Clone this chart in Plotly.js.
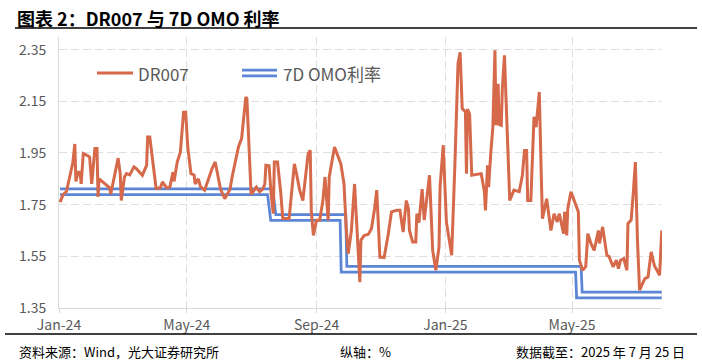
<!DOCTYPE html>
<html>
<head>
<meta charset="utf-8">
<script src="https://cdn.plot.ly/plotly-3.0.1.min.js"></script>
<style>html,body{margin:0;padding:0;background:#fff;}#chart{width:702px;height:361px;}</style>
</head>
<body>
<div id="chart"></div>
<script>
// ---- data ----
const seriesNames = ["DR007", "7D OMO利率"];
const drDates = [
"2024-01-02","2024-01-05","2024-01-08","2024-01-09","2024-01-12","2024-01-14","2024-01-16","2024-01-17","2024-01-19","2024-01-21","2024-01-22","2024-01-24","2024-01-28","2024-01-30",
"2024-02-01","2024-02-04","2024-02-06","2024-02-07","2024-02-08","2024-02-15","2024-02-18","2024-02-19","2024-02-23","2024-02-26","2024-02-28","2024-02-29",
"2024-03-03","2024-03-05","2024-03-08","2024-03-12","2024-03-14","2024-03-17","2024-03-20","2024-03-24","2024-03-25","2024-03-27","2024-03-30",
"2024-04-02","2024-04-06","2024-04-08","2024-04-12","2024-04-15","2024-04-18","2024-04-19","2024-04-22","2024-04-25","2024-04-28","2024-04-30",
"2024-05-02","2024-05-05","2024-05-08","2024-05-09","2024-05-12","2024-05-14","2024-05-18","2024-05-22","2024-05-25","2024-05-28","2024-05-30",
"2024-06-02","2024-06-06","2024-06-11","2024-06-13","2024-06-16","2024-06-19","2024-06-22","2024-06-24","2024-06-26","2024-06-27",
"2024-07-01","2024-07-06","2024-07-09","2024-07-12","2024-07-14","2024-07-15","2024-07-18","2024-07-20","2024-07-22","2024-07-23","2024-07-26","2024-07-29","2024-07-31",
"2024-08-06","2024-08-08","2024-08-11","2024-08-13","2024-08-16","2024-08-19","2024-08-21","2024-08-24","2024-08-26","2024-08-27","2024-08-29",
"2024-09-01","2024-09-04","2024-09-07","2024-09-09","2024-09-12","2024-09-13","2024-09-18","2024-09-21","2024-09-24","2024-09-27","2024-09-29",
"2024-10-01","2024-10-04","2024-10-07","2024-10-09","2024-10-10","2024-10-12","2024-10-13","2024-10-16","2024-10-20","2024-10-23","2024-10-26","2024-10-28","2024-10-31",
"2024-11-04","2024-11-08","2024-11-11","2024-11-16","2024-11-19","2024-11-22","2024-11-25","2024-11-27","2024-11-28",
"2024-12-01","2024-12-04","2024-12-05","2024-12-07","2024-12-10","2024-12-12","2024-12-17","2024-12-20","2024-12-23","2024-12-26","2024-12-27","2024-12-30",
"2025-01-02","2025-01-07","2025-01-10","2025-01-13","2025-01-15","2025-01-17","2025-01-20","2025-01-21","2025-01-22","2025-01-24","2025-01-26",
"2025-02-04","2025-02-07","2025-02-08","2025-02-10","2025-02-11","2025-02-13","2025-02-15","2025-02-17","2025-02-18","2025-02-20","2025-02-21","2025-02-23","2025-02-24","2025-02-26",
"2025-03-03","2025-03-07","2025-03-12","2025-03-15","2025-03-17","2025-03-19","2025-03-20","2025-03-23","2025-03-24","2025-03-26","2025-03-28","2025-03-31",
"2025-04-02","2025-04-03","2025-04-07","2025-04-11","2025-04-14","2025-04-17","2025-04-19","2025-04-23","2025-04-24","2025-04-26","2025-04-27","2025-04-30",
"2025-05-07","2025-05-08","2025-05-11","2025-05-14","2025-05-16","2025-05-19","2025-05-22","2025-05-26","2025-05-27","2025-05-30",
"2025-06-03","2025-06-05","2025-06-09","2025-06-12","2025-06-14","2025-06-16","2025-06-19","2025-06-22","2025-06-23","2025-06-26","2025-06-28","2025-06-30",
"2025-07-02","2025-07-04","2025-07-09","2025-07-12","2025-07-15","2025-07-18","2025-07-23","2025-07-25"
];
const drValues = [
1.76,1.79,1.80,1.82,1.88,1.91,1.985,1.84,1.875,1.875,1.83,1.948,1.94,1.934,
1.83,1.967,1.967,1.78,1.85,1.825,1.815,1.79,1.87,1.93,1.87,1.766,
1.857,1.87,1.865,1.896,1.89,1.876,1.864,1.902,2.012,2.012,1.90,
1.813,1.815,1.838,1.815,1.818,1.876,1.84,1.915,1.953,2.108,2.108,
1.973,1.87,1.865,1.83,1.85,1.82,1.806,1.857,1.89,1.915,1.87,
1.81,1.773,1.81,1.857,1.92,1.973,2.006,2.09,2.167,2.16,
1.79,1.818,1.80,1.81,1.83,1.902,1.90,1.79,1.715,1.915,1.915,1.80,1.696,
1.696,1.79,1.908,1.87,1.806,1.766,1.84,1.947,1.96,1.728,1.631,
1.69,1.69,1.766,1.857,1.69,1.857,1.973,1.94,1.908,1.83,1.664,
1.56,1.65,1.83,1.683,1.573,1.45,1.612,1.63,1.635,1.657,1.735,1.806,1.547,
1.545,1.638,1.722,1.728,1.728,1.644,1.766,1.735,1.65,
1.605,1.605,1.715,1.68,1.81,1.69,1.864,1.573,1.496,1.586,1.818,1.98,
1.683,1.554,1.90,2.296,2.34,2.122,2.11,1.87,2.12,2.10,1.864,
1.87,1.80,1.728,1.902,1.818,1.947,2.05,2.347,2.057,2.218,2.06,2.057,2.20,2.328,
1.766,1.806,1.80,1.864,1.96,1.96,1.766,1.766,1.87,2.09,2.05,2.186,
1.843,1.696,1.773,1.65,1.715,1.683,1.715,1.638,1.722,1.631,1.735,1.80,
1.722,1.535,1.496,1.51,1.638,1.599,1.573,1.65,1.60,1.664,
1.554,1.55,1.509,1.535,1.502,1.535,1.541,1.496,1.677,1.69,1.793,1.915,
1.612,1.419,1.464,1.47,1.567,1.515,1.477,1.65
];
const omoDates = ["2024-01-02","2024-07-19","2024-07-22","2024-09-26","2024-09-27","2025-05-07","2025-05-08","2025-07-25"];
const omoValues = [1.80,1.80,1.70,1.70,1.50,1.50,1.40,1.40];
const yTicks = [1.35,1.55,1.75,1.95,2.15,2.35];
const titleText = "图表 2：DR007 与 7D OMO 利率";
const sourceText = "资料来源：Wind，光大证券研究所";
const unitText = "纵轴：%";
const asOfText = "数据截至：2025 年 7 月 25 日";

// ---- layout geometry ----
const W = 702, H = 361;
const M = {l: 59, r: 40, t: 37, b: 53};
const PW = W - M.l - M.r, PH = H - M.t - M.b;
const px = v => (v - M.l) / PW;          // pixel -> paper x
const py = v => (H - M.b - v) / PH;      // pixel -> paper y

const FONT = '"Noto Sans CJK SC", "Noto Sans", sans-serif';
const RED = '#D5694A', BLUE = '#5B85D5', GRAY = '#595959', GRID = '#dedede';

const traces = [
  {x: omoDates, y: omoValues, mode: 'lines', name: seriesNames[1], showlegend: false,
   line: {color: BLUE, width: 8.5}, hoverinfo: 'skip'},
  {x: omoDates, y: omoValues, mode: 'lines', showlegend: false,
   line: {color: '#ffffff', width: 3}, hoverinfo: 'skip'},
  {x: drDates, y: drValues, mode: 'lines', name: seriesNames[0], showlegend: false,
   line: {color: RED, width: 3}}
];

const shapes = [
  {type: 'line', xref: 'paper', yref: 'paper', x0: px(15), x1: px(697), y0: py(28), y1: py(28), line: {color: '#000', width: 1.6}},
  {type: 'line', xref: 'paper', yref: 'paper', x0: px(5), x1: px(697), y0: py(334), y1: py(334), line: {color: '#000', width: 1.4}},
  // legend symbols
  {type: 'line', xref: 'paper', yref: 'paper', x0: px(97), x1: px(133), y0: py(73), y1: py(73), line: {color: RED, width: 3}},
  {type: 'line', xref: 'paper', yref: 'paper', x0: px(242), x1: px(277), y0: py(73), y1: py(73), line: {color: BLUE, width: 8.5}},
  {type: 'line', xref: 'paper', yref: 'paper', x0: px(241), x1: px(278), y0: py(73), y1: py(73), line: {color: '#fff', width: 3}}
];

const annotations = [
  {xref: 'paper', yref: 'paper', x: px(15), y: py(18), xanchor: 'left', yanchor: 'middle', showarrow: false,
   text: '<b>' + titleText + '</b>', font: {family: FONT, size: 18, color: '#000'}},
  {xref: 'paper', yref: 'paper', x: px(17), y: py(351), xanchor: 'left', yanchor: 'middle', showarrow: false,
   text: sourceText, font: {family: FONT, size: 13, color: '#000'}},
  {xref: 'paper', yref: 'paper', x: px(338), y: py(351), xanchor: 'left', yanchor: 'middle', showarrow: false,
   text: unitText, font: {family: FONT, size: 13, color: '#000'}},
  {xref: 'paper', yref: 'paper', x: px(687), y: py(351), xanchor: 'right', yanchor: 'middle', showarrow: false,
   text: asOfText, font: {family: FONT, size: 13, color: '#000'}},
  {xref: 'paper', yref: 'paper', x: px(136), y: py(73), xanchor: 'left', yanchor: 'middle', showarrow: false,
   text: seriesNames[0], font: {family: FONT, size: 17, color: GRAY}},
  {xref: 'paper', yref: 'paper', x: px(281), y: py(73), xanchor: 'left', yanchor: 'middle', showarrow: false,
   text: seriesNames[1], font: {family: FONT, size: 17, color: GRAY}}
];

const layout = {
  width: W, height: H,
  margin: M,
  paper_bgcolor: '#fff', plot_bgcolor: '#fff',
  showlegend: false,
  font: {family: FONT, color: GRAY},
  xaxis: {
    type: 'date',
    range: ['2024-01-01', '2025-07-25 06:00'],
    tick0: '2024-01-01', dtick: 'M4', tickformat: '%b-%y',
    showgrid: true, gridcolor: GRID, griddash: '8px,4px', gridwidth: 1,
    showline: true, linecolor: '#d9d9d9', linewidth: 1,
    ticks: 'outside', ticklen: 4, tickcolor: '#d9d9d9',
    tickfont: {family: FONT, size: 14, color: GRAY},
    zeroline: false, fixedrange: true
  },
  yaxis: {
    range: [1.35, 2.3988],
    tickvals: yTicks, tickformat: '.2f',
    showgrid: true, gridcolor: GRID, griddash: '8px,4px', gridwidth: 1,
    showline: true, linecolor: '#d9d9d9', linewidth: 1,
    ticks: '', ticklabelstandoff: 9,
    tickfont: {family: FONT, size: 14, color: GRAY},
    zeroline: false, fixedrange: true
  },
  shapes: shapes,
  annotations: annotations
};

Plotly.newPlot('chart', traces, layout, {staticPlot: true, displayModeBar: false});
</script>
</body>
</html>
